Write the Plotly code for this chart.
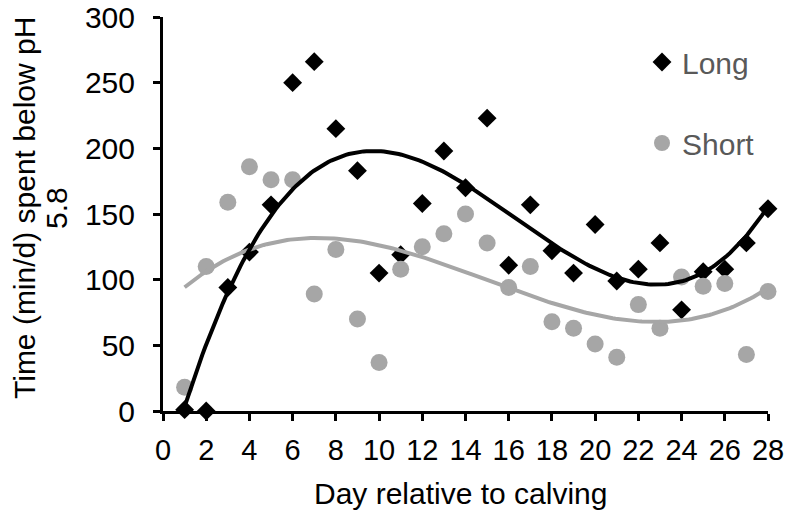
import numpy as np
import plotly.graph_objects as go

days = list(range(1, 29))
long_vals = [1, 0, 94, 121, 157, 250, 266, 215, 183, 105, 119, 158, 198, 170,
             223, 111, 157, 122, 105, 142, 99, 108, 128, 77, 106, 108, 128, 154]
short_vals = [18, 110, 159, 186, 176, 176, 89, 123, 70, 37, 108, 125, 135, 150,
              128, 94, 110, 68, 63, 51, 41, 81, 63, 102, 95, 97, 43, 91]
x_ticks = list(range(0, 29, 2))
y_ticks = [0, 50, 100, 150, 200, 250, 300]

FONT = "Liberation Sans, Arial, sans-serif"
GRAY = "#A6A6A6"

xs = np.linspace(min(days), max(days), 200)
long_fit = np.polyval(np.polyfit(days, long_vals, 3), xs)
short_fit = np.polyval(np.polyfit(days, short_vals, 3), xs)

fig = go.Figure()
fig.add_trace(go.Scatter(x=days, y=long_vals, mode="markers", name="Long",
                         legendgroup="a",
                         marker=dict(symbol="diamond", size=14.5, color="black"),
                         cliponaxis=False))
fig.add_trace(go.Scatter(x=days, y=short_vals, mode="markers", name="Short",
                         legendgroup="b",
                         marker=dict(symbol="circle", size=17, color=GRAY),
                         cliponaxis=False))
fig.add_trace(go.Scatter(x=xs, y=short_fit, mode="lines", showlegend=False,
                         line=dict(color=GRAY, width=4), cliponaxis=False,
                         hoverinfo="skip"))
fig.add_trace(go.Scatter(x=xs, y=long_fit, mode="lines", showlegend=False,
                         line=dict(color="black", width=4), cliponaxis=False,
                         hoverinfo="skip"))

axis_common = dict(showline=True, linecolor="black", linewidth=3,
                   ticks="outside", ticklen=7, tickwidth=3, tickcolor="black",
                   showgrid=False, zeroline=False, automargin=False)

fig.update_xaxes(range=[0, 28], tickvals=x_ticks, ticktext=[str(v) for v in x_ticks],
                 ticklabelstandoff=4,
                 tickfont=dict(family=FONT, size=29, color="black"), **axis_common)
fig.update_yaxes(range=[0, 300], tickvals=y_ticks, ticktext=[str(v) for v in y_ticks],
                 ticklabelstandoff=12,
                 tickfont=dict(family=FONT, size=30, color="black"), **axis_common)

for txt, px in (("Time (min/d) spent below pH", 25), ("5.8", 57)):
    fig.add_annotation(text=txt, textangle=-90,
                       xref="paper", yref="paper", x=(px - 163) / 605, y=(411 - 208) / 394,
                       xanchor="center", yanchor="middle", showarrow=False,
                       font=dict(family=FONT, size=30, color="black"))
fig.add_annotation(text="Day relative to calving",
                   xref="paper", yref="paper", x=(460 - 163) / 605, y=(411 - 493) / 394,
                   xanchor="center", yanchor="middle", showarrow=False,
                   font=dict(family=FONT, size=30, color="black"))

fig.update_layout(
    width=785, height=513,
    margin=dict(l=163, r=17, t=17, b=102),
    paper_bgcolor="white", plot_bgcolor="white",
    showlegend=True,
    legend=dict(x=(642 - 163) / 605, y=(411 - 36) / 394, xanchor="left", yanchor="top",
                traceorder="grouped", tracegroupgap=39,
                font=dict(family=FONT, size=30, color="#595959"),
                bgcolor="rgba(0,0,0,0)"),
)

fig.write_html("out.html")
